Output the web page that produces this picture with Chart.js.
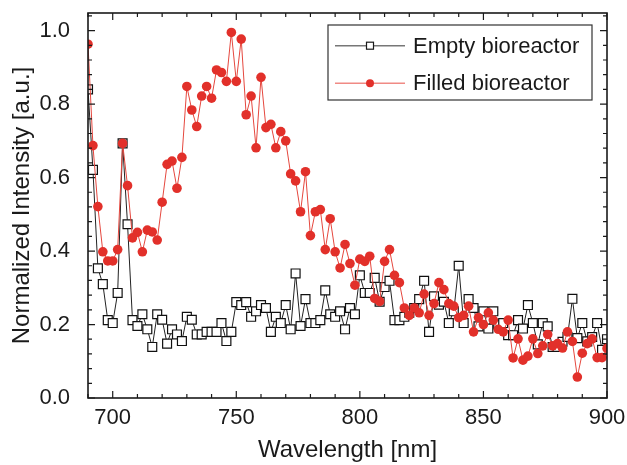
<!DOCTYPE html>
<html>
<head>
<meta charset="utf-8">
<script src="https://cdn.jsdelivr.net/npm/chart.js@4.4.0/dist/chart.umd.min.js"></script>
<style>
  html, body { margin: 0; padding: 0; background: #fff; }
</style>
</head>
<body>
<canvas id="chart" width="627" height="465"></canvas>
<script>
// spectra sampled every 2 nm
let wavelength = [
  690, 692, 694, 696, 698, 700, 702, 704, 706, 708, 710, 712, 714, 716, 718, 720, 722, 724, 726, 728,
  730, 732, 734, 736, 738, 740, 742, 744, 746, 748, 750, 752, 754, 756, 758, 760, 762, 764, 766, 768,
  770, 772, 774, 776, 778, 780, 782, 784, 786, 788, 790, 792, 794, 796, 798, 800, 802, 804, 806, 808,
  810, 812, 814, 816, 818, 820, 822, 824, 826, 828, 830, 832, 834, 836, 838, 840, 842, 844, 846, 848,
  850, 852, 854, 856, 858, 860, 862, 864, 866, 868, 870, 872, 874, 876, 878, 880, 882, 884, 886, 888,
  890, 892, 894, 896, 898, 900
];
let emptyReactor = [
  0.840, 0.621, 0.353, 0.310, 0.212, 0.204, 0.286, 0.693, 0.473, 0.212, 0.196, 0.228, 0.187, 0.139, 0.228, 0.213, 0.148, 0.187, 0.173, 0.155,
  0.221, 0.213, 0.173, 0.173, 0.180, 0.180, 0.180, 0.204, 0.155, 0.180, 0.261, 0.253, 0.261, 0.221, 0.236, 0.253, 0.245, 0.180, 0.221, 0.204,
  0.253, 0.187, 0.339, 0.196, 0.269, 0.204, 0.204, 0.212, 0.293, 0.228, 0.221, 0.236, 0.187, 0.245, 0.228, 0.334, 0.286, 0.286, 0.327, 0.262,
  0.302, 0.319, 0.212, 0.212, 0.221, 0.232, 0.245, 0.269, 0.319, 0.180, 0.277, 0.254, 0.262, 0.204, 0.236, 0.360, 0.204, 0.269, 0.245, 0.195,
  0.236, 0.189, 0.236, 0.200, 0.204, 0.171, 0.171, 0.212, 0.189, 0.253, 0.204, 0.146, 0.204, 0.195, 0.139, 0.139, 0.153, 0.166, 0.270, 0.163,
  0.204, 0.154, 0.166, 0.204, 0.131, 0.160
];
let filledReactor = [
  0.963, 0.687, 0.521, 0.398, 0.373, 0.373, 0.404, 0.693, 0.578, 0.436, 0.451, 0.398, 0.457, 0.452, 0.430, 0.533, 0.636, 0.645, 0.571, 0.655,
  0.848, 0.784, 0.739, 0.822, 0.848, 0.816, 0.893, 0.886, 0.862, 0.995, 0.862, 0.977, 0.771, 0.822, 0.681, 0.873, 0.736, 0.745, 0.681, 0.725,
  0.700, 0.610, 0.591, 0.507, 0.616, 0.442, 0.507, 0.513, 0.404, 0.488, 0.398, 0.354, 0.418, 0.366, 0.307, 0.378, 0.372, 0.386, 0.271, 0.263,
  0.372, 0.404, 0.334, 0.314, 0.245, 0.225, 0.245, 0.232, 0.283, 0.225, 0.257, 0.314, 0.295, 0.257, 0.250, 0.219, 0.225, 0.250, 0.180, 0.219,
  0.200, 0.232, 0.212, 0.187, 0.180, 0.212, 0.109, 0.161, 0.103, 0.114, 0.161, 0.121, 0.142, 0.173, 0.142, 0.148, 0.136, 0.180, 0.154, 0.057,
  0.122, 0.148, 0.161, 0.110, 0.110, 0.135
];
let seriesNames = ['Empty bioreactor', 'Filled bioreactor'];
let xTicks = [700, 750, 800, 850, 900];
let yTicks = [0.0, 0.2, 0.4, 0.6, 0.8, 1.0];

const FONT = '"Liberation Sans", Arial, Helvetica, sans-serif';
const INK = '#1a1a1a';

function toPoints(values) {
  return values.map((v, i) => ({x: wavelength[i], y: v}));
}

// fixed axis box, no extra room for edge labels
function fixBox(s, size) {
  if (s.isHorizontal()) s.height = size; else s.width = size;
  s.paddingLeft = s.paddingRight = s.paddingTop = s.paddingBottom = 0;
}

// box with inward major/minor ticks on all four sides
const frameTicks = {
  id: 'frameTicks',
  afterDatasetsDraw(chart) {
    const {ctx, chartArea: a, scales: {x, y}} = chart;
    ctx.save();
    ctx.strokeStyle = INK;
    ctx.lineWidth = 1.2;
    ctx.beginPath();
    for (let v = 690; v <= 900; v += 10) {
      const px = x.getPixelForValue(v);
      const len = v % 50 === 0 ? 7 : 4;
      ctx.moveTo(px, a.bottom); ctx.lineTo(px, a.bottom - len);
      ctx.moveTo(px, a.top); ctx.lineTo(px, a.top + len);
    }
    for (let i = 0; i <= 26; i++) {
      const py = y.getPixelForValue(i * 0.04);
      const len = i % 5 === 0 ? 7 : 4;
      ctx.moveTo(a.left, py); ctx.lineTo(a.left + len, py);
      ctx.moveTo(a.right, py); ctx.lineTo(a.right - len, py);
    }
    ctx.stroke();
    ctx.lineWidth = 1.6;
    ctx.strokeRect(a.left, a.top, a.right - a.left, a.bottom - a.top);
    ctx.restore();
  }
};

// framed legend in the upper right corner of the plot
const boxLegend = {
  id: 'boxLegend',
  afterDraw(chart) {
    const {ctx, chartArea: a} = chart;
    const w = 264, h = 75;
    const x0 = a.right - 15 - w, y0 = a.top + 12;
    ctx.save();
    ctx.fillStyle = '#fff';
    ctx.fillRect(x0, y0, w, h);
    ctx.strokeStyle = '#333';
    ctx.lineWidth = 1.2;
    ctx.strokeRect(x0, y0, w, h);
    const rows = [y0 + 20.7, y0 + 58.3];
    chart.data.datasets.forEach((ds, i) => {
      const ry = rows[i];
      ctx.strokeStyle = ds.legendLine;
      ctx.lineWidth = 1.5;
      ctx.beginPath();
      ctx.moveTo(x0 + 7, ry); ctx.lineTo(x0 + 77, ry);
      ctx.stroke();
      const mx = x0 + 42;
      ctx.lineWidth = 1.2;
      if (ds.pointStyle === 'rect') {
        ctx.fillStyle = '#fff';
        ctx.strokeStyle = INK;
        ctx.fillRect(mx - 3.5, ry - 3.5, 7, 7);
        ctx.strokeRect(mx - 3.5, ry - 3.5, 7, 7);
      } else {
        ctx.fillStyle = ds.pointBackgroundColor;
        ctx.beginPath();
        ctx.arc(mx, ry, 4, 0, Math.PI * 2);
        ctx.fill();
      }
      ctx.fillStyle = INK;
      ctx.font = '22px ' + FONT;
      ctx.textBaseline = 'middle';
      ctx.fillText(ds.label, x0 + 85, ry + 1);
    });
    ctx.restore();
  }
};

new Chart('chart', {
  type: 'line',
  data: {
    datasets: [{
      label: seriesNames[0],
      data: toPoints(emptyReactor),
      order: 2,
      borderColor: '#222',
      borderWidth: 1,
      legendLine: '#777',
      pointStyle: 'rect',
      pointRadius: 6.3,
      pointBorderWidth: 1.2,
      pointBorderColor: '#111',
      pointBackgroundColor: '#fff',
      tension: 0
    }, {
      label: seriesNames[1],
      data: toPoints(filledReactor),
      order: 1,
      borderColor: '#e5473e',
      borderWidth: 1,
      legendLine: '#f08a84',
      pointStyle: 'circle',
      pointRadius: 4.8,
      pointBorderWidth: 0,
      pointBackgroundColor: '#e2302a',
      tension: 0
    }]
  },
  options: {
    responsive: false,
    animation: false,
    layout: {padding: {top: 13, right: 20, left: 0, bottom: 0}},
    plugins: {
      legend: {display: false},
      tooltip: {enabled: false}
    },
    scales: {
      x: {
        type: 'linear',
        min: 690,
        max: 900,
        afterBuildTicks: s => { s.ticks = xTicks.map(v => ({value: v})); },
        afterFit: s => fixBox(s, 67),
        grid: {display: false, drawTicks: false},
        border: {display: false},
        ticks: {
          padding: 7,
          color: INK,
          font: {family: FONT, size: 22},
          callback: v => String(v)
        },
        title: {
          display: true,
          text: 'Wavelength [nm]',
          color: INK,
          font: {family: FONT, size: 24},
          padding: {top: 0, bottom: 0}
        }
      },
      y: {
        min: 0,
        max: 1.048,
        afterBuildTicks: s => { s.ticks = yTicks.map(v => ({value: v})); },
        afterFit: s => fixBox(s, 88),
        grid: {display: false, drawTicks: false},
        border: {display: false},
        ticks: {
          padding: 18,
          color: INK,
          font: {family: FONT, size: 22},
          callback: v => v.toFixed(1)
        },
        title: {
          display: true,
          text: 'Normalized Intensity [a.u.]',
          color: INK,
          font: {family: FONT, size: 24},
          padding: {top: 8, bottom: 0}
        }
      }
    }
  },
  plugins: [frameTicks, boxLegend]
});
</script>
</body>
</html>
